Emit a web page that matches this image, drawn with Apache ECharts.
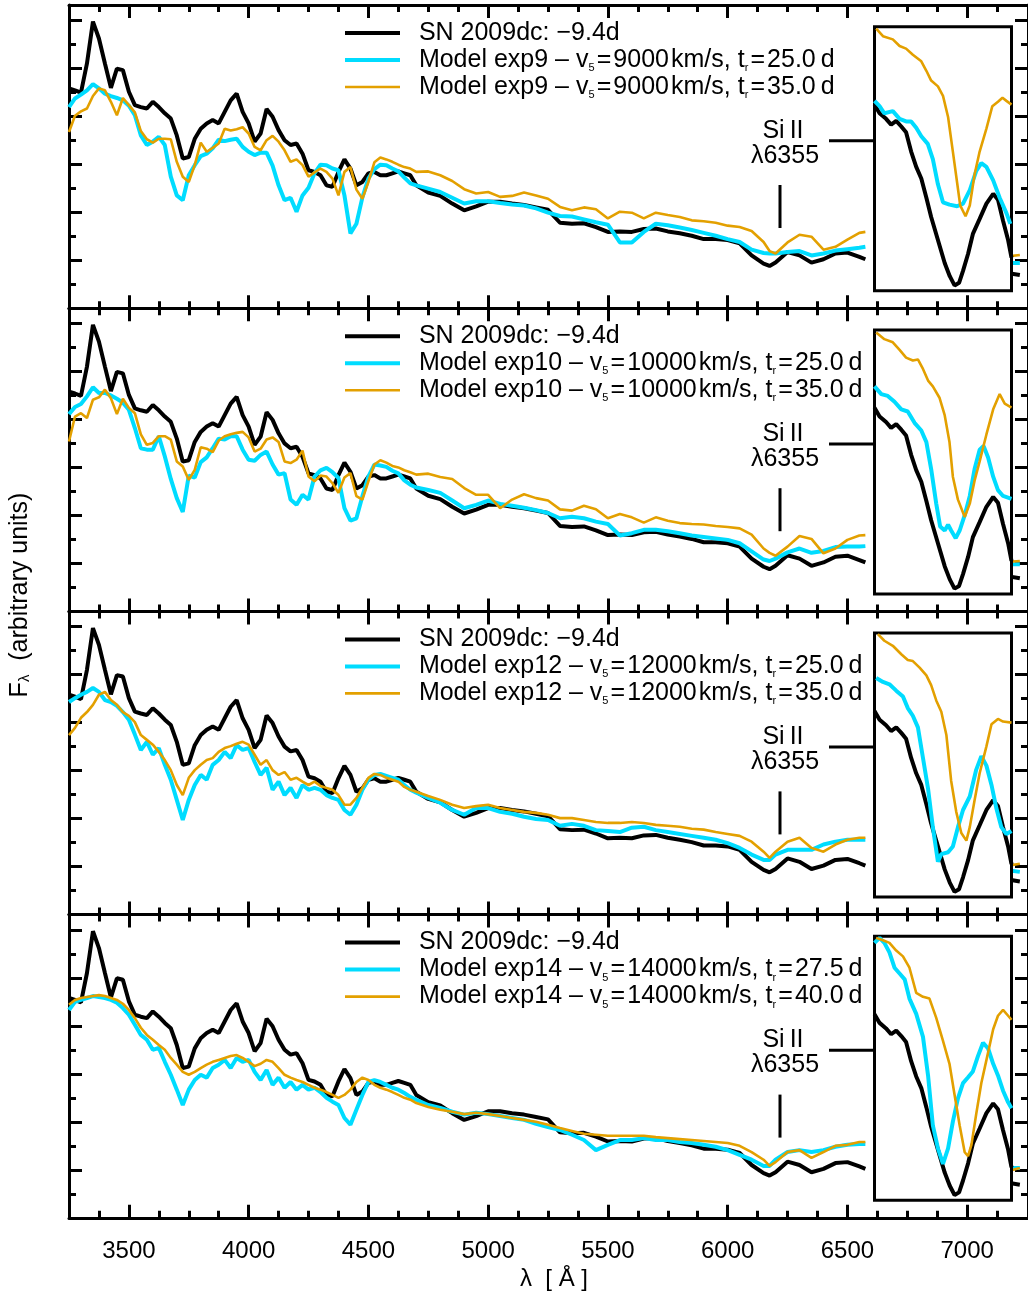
<!DOCTYPE html>
<html><head><meta charset="utf-8">
<script src="https://cdn.jsdelivr.net/npm/echarts@6/dist/echarts.min.js"></script>
<style>html,body{margin:0;padding:0;background:#fff}#c{width:1028px;height:1295px}</style>
</head><body><div id="c"></div>
<script>
// ---------------- DATA ----------------
const wave = [3250,3275,3300,3325,3350,3375,3400,3425,3450,3475,3500,3525,3550,3575,3600,3625,3650,3675,3700,3725,3750,3775,3800,3825,3850,3875,3900,3925,3950,3975,4000,4025,4050,4075,4100,4125,4150,4175,4200,4225,4250,4275,4300,4325,4350,4375,4400,4425,4450,4475,4500,4525,4550,4575,4600,4625,4650,4675,4700,
4750,4800,4850,4900,4950,5000,5050,5100,5150,5200,5250,5300,5350,5400,5450,5500,5550,5600,5650,5700,5750,5800,5850,5900,5950,6000,6050,6100,6150,6175,6200,6250,6300,6350,6400,6450,6500,6550,6575,6800,7160,7220];

const obs = [4.58,4.54,4.49,5.10,5.97,5.62,5.10,4.59,4.99,4.96,4.51,4.23,4.19,4.16,4.30,4.19,4.06,3.95,3.60,3.12,3.15,3.53,3.74,3.85,3.92,3.85,4.09,4.33,4.47,4.09,3.85,3.47,3.64,4.15,3.99,3.71,3.50,3.40,3.43,3.22,2.875,2.84,2.77,2.56,2.53,2.84,3.10,2.91,2.56,2.63,2.81,2.84,2.77,2.77,2.81,2.85,2.81,2.77,2.56,
2.41,2.34,2.18,2.04,2.12,2.22,2.22,2.18,2.15,2.10,2.05,1.78,1.76,1.77,1.69,1.59,1.60,1.59,1.65,1.66,1.60,1.56,1.51,1.44,1.44,1.42,1.35,1.10,0.93,0.88,0.95,1.17,1.10,0.95,1.02,1.14,1.16,1.07,1.02,null,0.74,0.69];

const cyan9 = [4.19,4.37,4.45,4.54,4.67,4.58,4.47,4.42,4.38,4.33,4.22,4.02,3.60,3.40,3.47,3.57,3.40,2.74,2.35,2.25,2.77,2.98,3.17,3.22,3.33,3.51,3.48,3.51,3.53,3.36,3.26,3.19,3.24,3.24,2.97,2.56,2.25,2.30,2.01,2.35,2.51,2.81,2.99,2.98,2.91,2.875,2.35,1.56,1.76,2.31,2.70,2.90,2.99,2.98,2.91,2.85,2.72,2.60,2.56,
2.49,2.42,2.30,2.18,2.23,2.23,2.19,2.16,2.14,2.08,1.99,1.92,1.91,1.85,1.79,1.74,1.37,1.37,1.59,1.76,1.73,1.68,1.63,1.57,1.51,1.44,1.38,1.22,1.15,1.14,1.14,1.17,1.19,1.10,1.14,1.20,1.23,1.26,1.28,null,0.94,0.94];

const orange9 = [3.67,4.01,4.10,4.16,4.42,4.58,4.54,4.30,4.02,4.38,4.23,4.08,3.69,3.52,3.45,3.53,3.53,3.52,3.05,2.74,2.63,2.98,3.45,3.26,3.34,3.43,3.74,3.70,3.73,3.77,3.64,3.36,3.29,3.50,3.59,3.47,3.29,3.05,3.10,2.98,2.74,2.83,2.91,2.84,2.70,2.35,2.84,2.94,2.47,2.28,2.63,3.04,3.14,3.10,3.05,2.99,2.94,2.91,2.84,
2.85,2.77,2.65,2.48,2.39,2.42,2.32,2.34,2.41,2.35,2.28,2.11,2.04,2.10,2.06,1.87,2.01,1.99,1.87,1.99,1.94,1.90,1.83,1.81,1.78,1.72,1.69,1.61,1.38,1.19,1.14,1.37,1.53,1.49,1.22,1.28,1.43,1.57,1.59,null,1.075,1.11];

const cyan10 = [4.11,4.26,4.32,4.48,4.67,4.55,4.55,4.50,4.43,4.35,4.20,3.82,3.40,3.37,3.37,3.65,3.23,2.76,2.36,2.07,2.83,2.79,3.11,3.21,3.40,3.60,3.58,3.65,3.65,3.37,3.16,3.14,3.26,3.33,3.06,2.85,2.88,2.33,2.22,2.43,2.33,2.81,2.94,2.99,2.90,2.78,2.15,1.89,1.94,2.40,2.81,3.06,3.04,3.01,2.93,2.875,2.73,2.64,2.58,
2.53,2.47,2.31,2.15,2.22,2.31,2.24,2.20,2.16,2.11,2.05,1.94,1.97,1.94,1.87,1.82,1.58,1.63,1.70,1.70,1.67,1.63,1.58,1.55,1.52,1.49,1.42,1.25,1.08,1.05,1.10,1.23,1.31,1.22,1.26,1.34,1.35,1.35,1.36,null,0.98,0.98];

const orange10 = [3.54,4.06,4.13,4.03,4.41,4.46,4.62,4.44,4.11,4.43,4.24,4.13,3.69,3.47,3.51,3.65,3.65,3.58,3.125,3.02,2.74,2.95,3.42,3.39,3.32,3.56,3.65,3.69,3.72,3.74,3.625,3.33,3.39,3.58,3.625,3.53,3.125,3.09,3.16,3.35,2.81,2.71,2.83,2.81,2.67,2.47,2.79,2.88,2.40,2.33,2.71,3.06,3.15,3.10,3.03,3.00,2.94,2.90,2.85,
2.87,2.80,2.76,2.57,2.43,2.43,2.15,2.33,2.44,2.36,2.31,2.125,2.10,2.20,2.13,1.94,2.03,1.96,1.85,1.96,1.89,1.84,1.82,1.81,1.78,1.76,1.73,1.60,1.31,1.22,1.16,1.35,1.57,1.51,1.21,1.31,1.49,1.58,1.59,null,1.03,1.05];

const cyan12 = [4.43,4.51,4.58,4.64,4.72,4.64,4.47,4.43,4.35,4.22,4.06,3.75,3.43,3.60,3.33,3.47,3.12,2.81,2.39,1.97,2.39,2.70,2.91,2.81,3.12,3.22,3.39,3.26,3.53,3.43,3.47,3.18,2.91,3.06,2.60,2.77,2.49,2.64,2.43,2.70,2.60,2.64,2.60,2.49,2.43,2.39,2.18,2.08,2.29,2.60,2.81,2.91,2.93,2.89,2.85,2.81,2.70,2.60,2.54,
2.43,2.33,2.18,2.08,2.22,2.22,2.14,2.10,2.04,1.99,1.97,1.85,1.89,1.85,1.76,1.74,1.72,1.81,1.83,1.76,1.72,1.68,1.64,1.60,1.56,1.49,1.39,1.25,1.14,1.14,1.25,1.35,1.35,1.35,1.46,1.52,1.56,1.56,1.56,null,0.93,0.89];

const orange12 = [3.74,3.89,4.10,4.22,4.37,4.58,4.64,4.47,4.37,4.22,4.14,4.01,3.74,3.64,3.54,3.39,3.22,3.01,2.70,2.49,2.85,3.01,3.12,3.22,3.26,3.39,3.47,3.51,3.56,3.60,3.54,3.33,3.12,3.22,3.01,2.91,2.97,2.81,2.85,2.77,2.70,2.77,2.68,2.64,2.60,2.49,2.29,2.29,2.43,2.64,2.85,2.93,2.91,2.85,2.81,2.77,2.66,2.60,2.56,
2.47,2.39,2.29,2.22,2.26,2.29,2.22,2.18,2.14,2.12,2.08,2.01,2.01,1.97,1.93,1.91,1.91,1.93,1.91,1.87,1.85,1.83,1.79,1.77,1.72,1.68,1.64,1.52,1.31,1.18,1.31,1.52,1.60,1.39,1.31,1.46,1.56,1.60,1.60,null,1.01,1.06];

const cyan14 = [4.33,4.50,4.54,4.58,4.62,4.60,4.58,4.54,4.48,4.37,4.23,4.02,3.81,3.71,3.50,3.54,3.25,2.98,2.67,2.35,2.67,2.87,2.98,2.92,3.12,3.19,3.29,3.12,3.33,3.25,3.29,3.04,2.87,3.08,2.77,2.92,2.71,2.83,2.67,2.77,2.67,2.71,2.62,2.50,2.42,2.35,2.08,1.94,2.25,2.56,2.83,2.87,2.83,2.77,2.71,2.67,2.60,2.52,2.46,
2.35,2.29,2.21,2.15,2.19,2.16,2.12,2.08,2.04,1.96,1.89,1.83,1.73,1.62,1.41,1.52,1.62,1.62,1.66,1.62,1.62,1.58,1.56,1.52,1.48,1.41,1.31,1.21,1.08,1.08,1.21,1.37,1.41,1.37,1.41,1.48,1.52,1.54,1.54,null,1.04,1.04];

const orange14 = [4.44,4.54,4.58,4.60,4.62,4.64,4.62,4.58,4.54,4.46,4.33,4.16,3.96,3.81,3.71,3.60,3.50,3.33,3.19,3.04,2.98,3.04,3.12,3.19,3.25,3.29,3.33,3.37,3.39,3.33,3.25,3.16,3.21,3.29,3.25,3.12,2.98,2.92,2.87,2.83,2.77,2.71,2.67,2.62,2.56,2.50,2.56,2.67,2.83,2.92,2.87,2.77,2.71,2.67,2.62,2.56,2.50,2.46,2.39,
2.31,2.25,2.21,2.16,2.19,2.16,2.12,2.08,2.04,2.00,1.94,1.87,1.81,1.75,1.73,1.71,1.71,1.71,1.71,1.68,1.66,1.64,1.62,1.60,1.58,1.56,1.50,1.37,1.21,1.08,1.16,1.37,1.41,1.25,1.37,1.50,1.52,1.58,1.58,null,0.96,1.04];

// inset (Si II region), nominal wavelength and relative flux
const insObsW = [5906,5924,5947,5965,5983,6001,6018,6036,6054,6072,6090,6107,6131,6155,6173,6190,6206,6220,6238,6255,6279,6303,6327,6344,6362,6380,6392];
const insObsF = [0.705,0.672,0.651,0.629,0.643,0.622,0.600,0.527,0.469,0.425,0.352,0.279,0.192,0.105,0.055,0.020,0.030,0.075,0.140,0.215,0.272,0.330,0.367,0.345,0.265,0.192,0.125];
const ins9CyanW = [5906,5924,5941,5971,5995,6018,6036,6054,6072,6095,6113,6131,6149,6172,6199,6220,6244,6267,6285,6303,6327,6350,6374,6388];
const ins9CyanF = [0.719,0.699,0.672,0.680,0.651,0.641,0.641,0.617,0.585,0.556,0.498,0.403,0.335,0.326,0.320,0.330,0.381,0.454,0.483,0.469,0.418,0.352,0.294,0.253];
const ins9OrW = [5912,5936,5971,5995,6018,6042,6072,6090,6107,6131,6149,6167,6184,6199,6210,6229,6244,6261,6279,6303,6324,6344,6360,6374,6392];
const ins9OrF = [0.993,0.964,0.952,0.927,0.917,0.894,0.869,0.833,0.796,0.774,0.738,0.658,0.527,0.410,0.323,0.282,0.323,0.440,0.527,0.614,0.699,0.716,0.731,0.719,0.705];
const ins10CyanW = [5906,5930,5953,5977,6001,6024,6048,6072,6090,6107,6125,6139,6155,6167,6178,6194,6208,6226,6244,6261,6279,6293,6309,6327,6344,6362,6392];
const ins10CyanF = [0.786,0.757,0.750,0.728,0.699,0.691,0.648,0.619,0.575,0.473,0.342,0.255,0.240,0.262,0.240,0.211,0.240,0.298,0.371,0.473,0.546,0.560,0.517,0.444,0.393,0.371,0.360];
const ins10OrW = [5912,5941,5971,5995,6018,6042,6060,6078,6096,6113,6137,6155,6172,6184,6202,6226,6244,6261,6279,6303,6327,6350,6368,6392];
const ins10OrF = [0.990,0.965,0.953,0.924,0.895,0.884,0.888,0.852,0.808,0.786,0.742,0.677,0.575,0.444,0.357,0.291,0.342,0.429,0.502,0.604,0.699,0.757,0.721,0.706];
const ins12CyanW = [5912,5936,5959,5983,6007,6024,6042,6060,6078,6096,6113,6131,6143,6167,6184,6202,6220,6244,6267,6285,6303,6321,6338,6356,6374,6392];
const ins12CyanF = [0.830,0.815,0.806,0.782,0.760,0.716,0.687,0.643,0.527,0.410,0.265,0.134,0.163,0.170,0.192,0.265,0.330,0.381,0.483,0.534,0.498,0.425,0.338,0.265,0.239,0.250];
const ins12OrW = [5918,5941,5971,6001,6024,6042,6066,6090,6107,6125,6143,6161,6178,6196,6214,6232,6244,6261,6279,6303,6321,6344,6362,6392];
const ins12OrF = [0.996,0.971,0.952,0.920,0.898,0.894,0.869,0.840,0.803,0.745,0.702,0.614,0.440,0.323,0.243,0.214,0.265,0.367,0.469,0.571,0.655,0.675,0.665,0.661];
const ins14CyanW = [5906,5924,5941,5959,5977,5995,6013,6030,6054,6078,6096,6113,6131,6149,6167,6184,6202,6220,6238,6255,6273,6291,6309,6327,6344,6362,6380,6392];
const ins14CyanF = [0.975,0.994,0.975,0.939,0.881,0.859,0.837,0.764,0.706,0.619,0.473,0.284,0.197,0.138,0.197,0.298,0.386,0.444,0.466,0.488,0.546,0.597,0.575,0.517,0.473,0.415,0.371,0.349];
const ins14OrW = [5912,5936,5959,5983,6007,6030,6054,6078,6101,6125,6149,6172,6190,6208,6226,6238,6250,6267,6285,6303,6327,6344,6362,6380,6392];
const ins14OrF = [0.994,0.985,0.975,0.946,0.924,0.881,0.786,0.771,0.764,0.691,0.604,0.517,0.400,0.284,0.182,0.167,0.211,0.328,0.444,0.531,0.648,0.699,0.721,0.699,0.684];

const xMajor = [3500,4000,4500,5000,5500,6000,6500,7000];
const xMinor = [3375,3625,3750,3875,4125,4250,4375,4625,4750,4875,5125,5250,5375,5625,5750,5875,6125,6250,6375,6625,6750,6875,7125];
const yMajor = [1,2,3,4,5,6];
const yMinor = [0.5,1.5,2.5,3.5,4.5,5.5];

const obsName = 'SN 2009dc: \u22129.4d';
const models = [
  {exp:'exp9',  v:'9000',  t1:'25.0', t2:'35.0', cyan:cyan9,  orange:orange9,  icw:ins9CyanW,  icf:ins9CyanF,  iow:ins9OrW,  iof:ins9OrF},
  {exp:'exp10', v:'10000', t1:'25.0', t2:'35.0', cyan:cyan10, orange:orange10, icw:ins10CyanW, icf:ins10CyanF, iow:ins10OrW, iof:ins10OrF},
  {exp:'exp12', v:'12000', t1:'25.0', t2:'35.0', cyan:cyan12, orange:orange12, icw:ins12CyanW, icf:ins12CyanF, iow:ins12OrW, iof:ins12OrF},
  {exp:'exp14', v:'14000', t1:'27.5', t2:'40.0', cyan:cyan14, orange:orange14, icw:ins14CyanW, icf:ins14CyanF, iow:ins14OrW, iof:ins14OrF}
];

// ---------------- LAYOUT ----------------
const FONT = "'Liberation Sans', Arial, Helvetica, sans-serif";
const X0 = 69, XW = 967, TOP0 = 5, PH = 303.2;
const XMIN = 3250, XMAX = 7254, YMAX = 6.317;
const BLACK = '#000000', CYAN = '#00DCFF', ORANGE = '#E3A000';
const W_OBS = 4, W_CYAN = 4, W_OR = 2.6;
const HS = '\u200a', TS = '\u2009';

const grids = [], xAxes = [], yAxes = [], series = [], legends = [], graphics = [];
const pair = (w, f) => w.map((x, k) => [x, f[k]]);

function xAx(gi, pos, ticks, len, line, labels) {
  return {type:'value', gridIndex:gi, position:pos, min:XMIN, max:XMAX,
    axisLine:{show:line, onZero:false, lineStyle:{color:'#000', width:3}},
    axisTick:{show:true, inside:true, length:len, customValues:ticks, lineStyle:{color:'#000', width:3}},
    axisLabel:{show:labels, customValues:ticks, fontSize:24, fontFamily:FONT, color:'#000', margin:22,
               formatter:(v) => String(v)},
    splitLine:{show:false}, minorTick:{show:false}};
}
function yAx(gi, pos, ticks, len, line) {
  return {type:'value', gridIndex:gi, position:pos, min:0, max:YMAX,
    axisLine:{show:line, onZero:false, lineStyle:{color:'#000', width:3}},
    axisTick:{show:true, inside:true, length:len, customValues:ticks, lineStyle:{color:'#000', width:3}},
    axisLabel:{show:false}, splitLine:{show:false}, minorTick:{show:false}};
}

// main panels: grids 0..3, xAxis/yAxis 4i..4i+3
for (let i = 0; i < 4; i++) {
  const m = models[i];
  const top = TOP0 + PH * i;
  grids.push({left:X0, top:top, width:XW, height:PH, show:false});
  xAxes.push(xAx(i, 'bottom', xMajor, 13, true, i === 3));
  xAxes.push(xAx(i, 'bottom', xMinor, 7, false, false));
  xAxes.push(xAx(i, 'top', xMajor, 13, true, false));
  xAxes.push(xAx(i, 'top', xMinor, 7, false, false));
  yAxes.push(yAx(i, 'left', yMajor, 13, true));
  yAxes.push(yAx(i, 'left', yMinor, 7, false));
  yAxes.push(yAx(i, 'right', yMajor, 13, true));
  yAxes.push(yAx(i, 'right', yMinor, 7, false));

  const n1 = `Model ${m.exp} \u2013 v5=${m.v}km/s, tr=${m.t1}d`;
  const n2 = `Model ${m.exp} \u2013 v5=${m.v}km/s, tr=${m.t2}d`;
  const rich1 = `  Model ${m.exp} \u2013 v{s|5}${HS}=${HS}${m.v}${HS}km/s, t{s|r}${HS}=${HS}${m.t1}${TS}d`;
  const rich2 = `  Model ${m.exp} \u2013 v{s|5}${HS}=${HS}${m.v}${HS}km/s, t{s|r}${HS}=${HS}${m.t2}${TS}d`;
  const fm = {}; fm[obsName] = '  ' + obsName; fm[n1] = rich1; fm[n2] = rich2;

  const common = {type:'line', xAxisIndex:4*i, yAxisIndex:4*i, symbol:'none', showSymbol:false,
                  connectNulls:false, clip:true, animation:false, z:2};
  series.push(Object.assign({}, common, {name:obsName, data:pair(wave, obs),
    lineStyle:{color:BLACK, width:W_OBS}, itemStyle:{color:BLACK}}));
  series.push(Object.assign({}, common, {name:n1, data:pair(wave, m.cyan),
    lineStyle:{color:CYAN, width:W_CYAN}, itemStyle:{color:CYAN}}));
  series.push(Object.assign({}, common, {name:n2, data:pair(wave, m.orange),
    lineStyle:{color:ORANGE, width:W_OR}, itemStyle:{color:ORANGE}}));

  legends.push({orient:'vertical', left:343, top:top + 14.5, itemWidth:55, itemHeight:27, itemGap:0, padding:0,
    selectedMode:false,
    itemStyle:{opacity:0}, lineStyle:{width:'inherit'},
    data:[
      {name:obsName, itemStyle:{opacity:0}, lineStyle:{width:W_OBS}},
      {name:n1, itemStyle:{opacity:0}, lineStyle:{width:W_CYAN}},
      {name:n2, itemStyle:{opacity:0}, lineStyle:{width:W_OR}}],
    formatter:(nm) => fm[nm],
    textStyle:{fontSize:25, fontFamily:FONT, color:'#000', lineHeight:27,
      rich:{s:{fontSize:11, fontFamily:FONT, color:'#000', lineHeight:4, verticalAlign:'bottom'}}}});

  // annotations
  graphics.push({type:'text', x:783, y:131 + PH*i, z:20,
    style:{text:'Si\u2009II', font:`25px ${FONT}`, fill:'#000', align:'center', verticalAlign:'middle'}});
  graphics.push({type:'text', x:785, y:156 + PH*i, z:20,
    style:{text:'\u03bb6355', font:`25px ${FONT}`, fill:'#000', align:'center', verticalAlign:'middle'}});
  graphics.push({type:'line', z:20, shape:{x1:829, y1:140.7 + PH*i, x2:874, y2:140.7 + PH*i},
    style:{stroke:'#000', lineWidth:3}});
  graphics.push({type:'line', z:20, shape:{x1:780, y1:185 + PH*i, x2:780, y2:228 + PH*i},
    style:{stroke:'#000', lineWidth:3}});
}

// insets: grids 4..7, xAxis/yAxis 16..19
for (let i = 0; i < 4; i++) {
  const m = models[i];
  grids.push({left:874.5, top:26.7 + PH * i, width:137, height:264, show:true, backgroundColor:'#fff',
              borderColor:'#000', borderWidth:3, z:10});
  xAxes.push({type:'value', gridIndex:4 + i, min:5906, max:6392, show:false});
  yAxes.push({type:'value', gridIndex:4 + i, min:0, max:1, show:false});
  const ic = {type:'line', xAxisIndex:16 + i, yAxisIndex:16 + i, symbol:'none', showSymbol:false,
              clip:true, animation:false, z:12, silent:true};
  series.push(Object.assign({}, ic, {name:'Si II inset obs ' + (i+1), data:pair(insObsW, insObsF), lineStyle:{color:BLACK, width:W_OBS}}));
  series.push(Object.assign({}, ic, {name:'Si II inset model a ' + (i+1), data:pair(m.icw, m.icf), lineStyle:{color:CYAN, width:W_CYAN}}));
  series.push(Object.assign({}, ic, {name:'Si II inset model b ' + (i+1), data:pair(m.iow, m.iof), lineStyle:{color:ORANGE, width:W_OR}}));
}

graphics.push({type:'text', x:554, y:1279, style:{text:'\u03bb  [ \u00c5 ]', font:`24px ${FONT}`, fill:'#000', align:'center', verticalAlign:'middle'}});
graphics.push({type:'text', x:20, y:595, rotation:Math.PI/2,
  style:{text:'F{s|\u03bb}  (arbitrary units)', font:`25px ${FONT}`, fill:'#000', align:'center', verticalAlign:'middle',
    rich:{s:{fontSize:15, fontFamily:FONT, fill:'#000', lineHeight:6, verticalAlign:'bottom'}}}});

const chart = echarts.init(document.getElementById('c'), null, {renderer:'canvas', width:1028, height:1295});
chart.setOption({
  animation:false, backgroundColor:'#fff',
  grid:grids, xAxis:xAxes, yAxis:yAxes, series:series, legend:legends, graphic:graphics
});
</script></body></html>
